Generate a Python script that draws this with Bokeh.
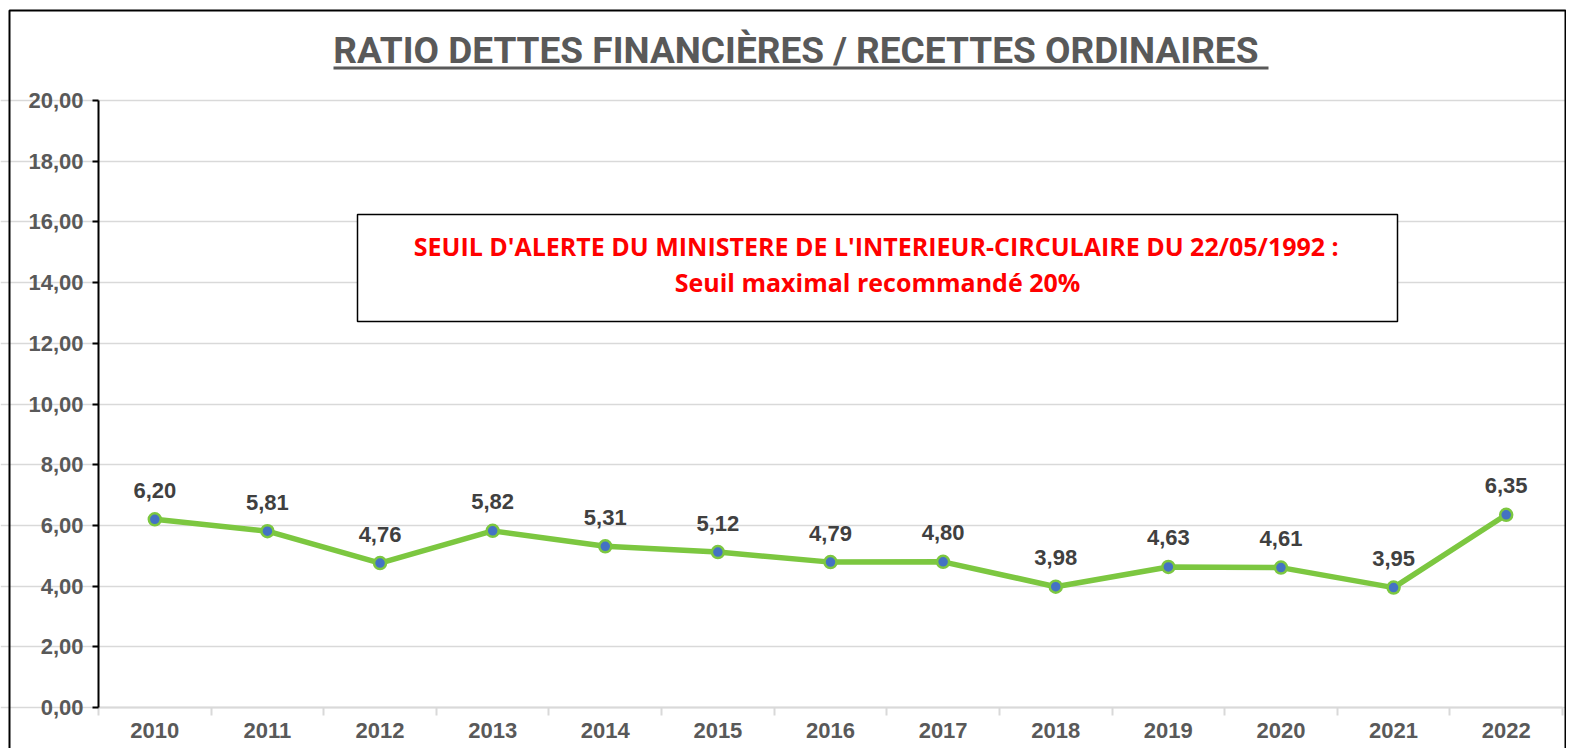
from bokeh.plotting import figure
from bokeh.models import (ColumnDataSource, FixedTicker, LabelSet, Label, BoxAnnotation, Range1d)
from bokeh.core.properties import value
from bokeh.embed import file_html
from bokeh.resources import INLINE

years = [2010, 2011, 2012, 2013, 2014, 2015, 2016, 2017, 2018, 2019, 2020, 2021, 2022]
ratio = [6.20, 5.81, 4.76, 5.82, 5.31, 5.12, 4.79, 4.80, 3.98, 4.63, 4.61, 3.95, 6.35]
y_ticks = [0, 2, 4, 6, 8, 10, 12, 14, 16, 18, 20]
title_text = "RATIO DETTES FINANCIÈRES  / RECETTES ORDINAIRES"
note_line1 = "SEUIL D'ALERTE DU MINISTERE DE L'INTERIEUR-CIRCULAIRE DU  22/05/1992 :"
note_line2 = "Seuil maximal recommandé 20%"

def fr(v):
    return f"{v:.2f}".replace(".", ",")

W, H = 1566, 748
X0 = years[0] - 0.5          # left edge of the category band
X1 = years[-1] + 0.5         # right edge
PX = 112.615                 # pixels per year
PY = 30.35                   # pixels per unit
x_start = X0 - 98 / PX
x_end = X0 + (W - 98) / PX
y_start = -(H - 707) / PY
y_end = 707 / PY

def cx(px):   # canvas x -> data x
    return X0 + (px - 98) / PX

def cy(py):   # canvas y -> data y
    return (707 - py) / PY

p = figure(width=W, height=H, output_backend="svg", toolbar_location=None,
           x_range=Range1d(x_start, x_end), y_range=Range1d(y_start, y_end),
           min_border_left=0, min_border_top=0, min_border_right=0, min_border_bottom=0)
p.outline_line_color = None
p.background_fill_color = "white"
p.border_fill_color = "white"

# grid
p.xgrid.grid_line_color = None
p.ygrid.grid_line_color = "#d9d9d9"
p.ygrid.grid_line_width = 1.5
p.ygrid.bounds = (X0, X1)

# y axis
p.yaxis.fixed_location = X0
p.yaxis.bounds = (0, 20)
p.yaxis.ticker = FixedTicker(ticks=y_ticks)
p.yaxis.major_label_overrides = {t: fr(t) for t in y_ticks}
p.yaxis.axis_line_color = "black"
p.yaxis.axis_line_width = 2
p.yaxis.major_tick_line_color = "black"
p.yaxis.major_tick_line_width = 2
p.yaxis.major_tick_out = 6
p.yaxis.major_tick_in = 0
p.yaxis.minor_tick_line_color = None
p.yaxis.major_label_text_font = "Liberation Sans"
p.yaxis.major_label_text_font_style = "bold"
p.yaxis.major_label_text_font_size = "22px"
p.yaxis.major_label_text_color = "#595959"
p.yaxis.major_label_standoff = 9

# x axis
bounds = [y - 0.5 for y in years] + [years[-1] + 0.5]
p.xaxis.fixed_location = 0
p.xaxis.bounds = (X0, X1)
p.xaxis.ticker = FixedTicker(ticks=years, minor_ticks=bounds)
p.xaxis.major_label_overrides = {y: str(y) for y in years}
p.xaxis.axis_line_color = "#d9d9d9"
p.xaxis.axis_line_width = 2
p.xaxis.major_tick_line_color = None
p.xaxis.major_tick_out = 0
p.xaxis.minor_tick_line_color = "#d9d9d9"
p.xaxis.minor_tick_line_width = 2
p.xaxis.minor_tick_out = 8
p.xaxis.minor_tick_in = 0
p.xaxis.major_label_text_font = "Liberation Sans"
p.xaxis.major_label_text_font_style = "bold"
p.xaxis.major_label_text_font_size = "22px"
p.xaxis.major_label_text_color = "#595959"
p.xaxis.major_label_standoff = 7

src = ColumnDataSource(dict(x=years, y=ratio, lbl=[fr(v) for v in ratio]))
p.line("x", "y", source=src, line_color="#7cc740", line_width=5.5)
p.scatter("x", "y", source=src, size=12, fill_color="#4472c4", line_color="#7cc740", line_width=2.5)

labels = LabelSet(x="x", y="y", text="lbl", source=src, text_align="center", text_baseline="middle",
                  y_offset=29, text_font=value("Liberation Sans"), text_font_style="bold",
                  text_font_size="22px", text_color="#404040")
p.add_layout(labels)

# note box
bl, br, bt, bb = cx(357), cx(1397), cy(214), cy(321)
box = BoxAnnotation(left=bl, right=br, top=bt, bottom=bb,
                    fill_color="white", fill_alpha=1, line_color="black", line_alpha=1, line_width=1.5)
p.add_layout(box)
p.add_layout(Label(x=cx(879), y=cy(245), text=note_line1, text_align="center",
                   text_baseline="middle", text_font="Open Sans", text_font_style="bold",
                   text_font_size="25px", text_color="#ff0000"))
p.add_layout(Label(x=cx(877), y=cy(281), text=note_line2, text_align="center",
                   text_baseline="middle", text_font="Open Sans", text_font_style="bold",
                   text_font_size="25px", text_color="#ff0000"))

# title + underline
p.add_layout(Label(x=cx(800), y=cy(50), text=title_text,
                   text_align="center", text_baseline="middle", text_font="Roboto",
                   text_font_style="bold", text_font_size="37px", text_color="#595959"))
p.add_layout(BoxAnnotation(left=cx(333), right=cx(1268), top=cy(66), bottom=cy(69),
                           fill_color="#595959", fill_alpha=1, line_color=None))
# outer border
p.add_layout(BoxAnnotation(left=cx(9), right=cx(1565), top=cy(10), bottom=cy(H + 10),
                           fill_alpha=0, line_color="black", line_alpha=1, line_width=2))

open("out.html", "w").write(file_html(p, INLINE))
